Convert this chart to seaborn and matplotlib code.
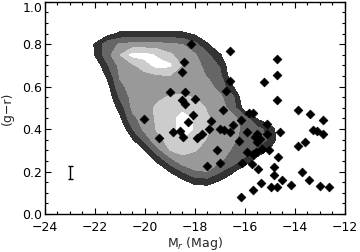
import numpy as np
import pandas as pd
import matplotlib
matplotlib.use('Agg')
import matplotlib.pyplot as plt
import seaborn as sns

# Dwarf galaxy sample: absolute magnitude and colour
mag_r = [-20.04, -19.42, -19.00, -18.89, -18.60, -18.50, -18.43, -18.16, -18.40, -18.50,
         -18.40, -18.00, -18.07, -18.28, -18.48, -17.73, -17.37, -17.42, -17.00, -16.82,
         -16.60, -16.87, -16.76, -16.60, -16.60, -16.49, -16.16, -15.82, -15.69, -15.24,
         -14.73, -14.73, -14.73, -13.87, -13.40, -12.88, -15.11, -14.60, -13.27, -13.11,
         -12.87, -15.93, -15.51, -15.60, -15.10, -16.22, -15.52, -15.40, -15.03, -13.60,
         -13.87, -15.90, -15.56, -15.66, -15.33, -14.69, -16.12, -15.73, -15.47, -14.84,
         -14.83, -13.72, -14.53, -13.43, -15.37, -14.16, -14.97, -14.71, -12.98, -12.64,
         -15.69, -16.14, -17.13, -17.00, -17.51, -17.92]
g_r = [0.449, 0.360, 0.573, 0.388, 0.391, 0.667, 0.714, 0.800, 0.576, 0.535,
       0.516, 0.541, 0.467, 0.431, 0.361, 0.377, 0.436, 0.398, 0.398, 0.394,
       0.388, 0.492, 0.580, 0.628, 0.768, 0.419, 0.443, 0.475, 0.475, 0.622,
       0.731, 0.657, 0.536, 0.490, 0.471, 0.441, 0.424, 0.388, 0.396, 0.391,
       0.377, 0.384, 0.375, 0.363, 0.379, 0.342, 0.341, 0.352, 0.302, 0.341,
       0.319, 0.290, 0.294, 0.283, 0.305, 0.270, 0.242, 0.236, 0.211, 0.221,
       0.184, 0.198, 0.158, 0.160, 0.148, 0.135, 0.126, 0.125, 0.133, 0.126,
       0.111, 0.079, 0.302, 0.242, 0.226, 0.356]

# typical error bar
err_mag = [-23.0]
err_col = [0.196]
err_size = [0.03]

grid_mag = np.arange(-22.5, -14.49, 0.5)
grid_col = np.arange(0.10, 0.901, 0.05)
density = np.array([
    [0, 0, 0, 0, 0, 0, 0, 0, 0, 0, 0, 0, 0, 0, 0, 0, 0],
    [0, 0, 0, 0, 0, 0, 0, 0, 0.6, 1.3, 1.4, 0.8, 0.2, 0, 0, 0, 0],
    [0, 0, 0, 0, 0, 0, 0, 1.05, 2.05, 2.9, 3.0, 2.1, 1.2, 0, 0, 0, 0],
    [0, 0, 0, 0, 0, 0, 1.2, 2.5, 3.6, 3.6, 3.4, 3.1, 2.6, 1.7, 0.4, 0, 0],
    [0, 0, 0, 0, 0, 1.0, 2.6, 4.0, 4.3, 4.05, 3.7, 3.4, 2.9, 2.5, 1.85, 0.8, 0],
    [0, 0, 0, 0, 0.9, 2.4, 3.75, 4.3, 4.95, 4.6, 3.9, 3.5, 3.15, 2.7, 2.3, 1.9, 0],
    [0, 0, 0, 0, 2.0, 3.3, 4.1, 4.6, 5.4, 4.9, 4.15, 3.7, 3.3, 2.8, 2.3, 1.6, 0],
    [0, 0, 0, 0.8, 2.75, 3.4, 4.2, 4.7, 5.3, 4.9, 4.1, 3.6, 3.3, 2.5, 0.9, 0, 0],
    [0, 0, 0, 1.4, 3.2, 3.6, 4.2, 4.6, 4.8, 4.6, 3.9, 3.4, 2.6, 0.4, 0, 0, 0],
    [0, 0, 0.2, 2.2, 3.3, 3.5, 3.8, 4.1, 4.15, 3.95, 3.6, 3.2, 2.3, 0, 0, 0, 0],
    [0, 0, 0.6, 2.8, 3.3, 3.4, 3.4, 3.5, 3.6, 3.5, 3.3, 2.7, 1.1, 0, 0, 0, 0],
    [0, 0, 1.2, 3.1, 3.4, 3.6, 3.8, 3.95, 3.6, 3.3, 2.95, 2.3, 0.2, 0, 0, 0, 0],
    [0, 0.2, 1.9, 3.3, 3.8, 4.6, 5.35, 5.15, 3.9, 3.4, 2.6, 1.9, 0, 0, 0, 0, 0],
    [0, 1.05, 2.6, 4.0, 5.3, 5.3, 4.85, 4.2, 3.4, 3.1, 2.2, 1.1, 0, 0, 0, 0, 0],
    [0, 1.1, 2.6, 3.1, 3.3, 3.3, 3.3, 3.1, 3.0, 2.3, 1.1, 0, 0, 0, 0, 0, 0],
    [0, 0, 0.6, 1.2, 1.3, 1.3, 1.3, 1.3, 1.2, 0.8, 0.2, 0, 0, 0, 0, 0, 0],
    [0, 0, 0, 0, 0, 0, 0, 0, 0, 0, 0, 0, 0, 0, 0, 0, 0],
])

df = pd.DataFrame({'Mr': mag_r, 'gr': g_r})

sns.set_style('ticks')
plt.rcParams['font.family'] = ['DejaVu Sans']
plt.rcParams['font.size'] = 9

fig = plt.figure(figsize=(3.6, 2.52), dpi=100)
ax = fig.add_axes([0.125, 0.151, 0.833, 0.842])

# shaded density contours
ax.contourf(grid_mag, grid_col, density, levels=[1, 2, 3, 4, 5, 10],
            colors=['#333333', '#666666', '#999999', '#cccccc', '#ffffff'], zorder=1)

sns.scatterplot(data=df, x='Mr', y='gr', marker='D', s=20, color='black',
                edgecolor='black', linewidth=0.5, ax=ax, zorder=3)

ax.errorbar(err_mag, err_col, yerr=err_size, fmt='none', ecolor='black',
            elinewidth=1, capsize=1.8, capthick=1, zorder=3)

ax.set_xlim(-24, -12)
ax.set_ylim(0.0, 1.0)
ax.set_xticks([-24, -22, -20, -18, -16, -14, -12])
ax.set_yticks([0.0, 0.2, 0.4, 0.6, 0.8, 1.0])
ax.set_xticks(np.arange(-24, -11.9, 0.5), minor=True)
ax.set_yticks(np.arange(0, 1.001, 0.05), minor=True)
ax.set_yticklabels(['0.0', '0.2', '0.4', '0.6', '0.8', '1.0'])
ax.get_yticklabels()[-1].set_va('top')

ax.tick_params(which='both', direction='in', top=True, right=True, width=0.8, colors='black')
ax.tick_params(which='major', length=4, labelsize=9)
ax.tick_params(axis='x', which='major', pad=5)
ax.tick_params(axis='y', which='major', pad=2)
ax.tick_params(which='minor', length=2.2)
for sp in ax.spines.values():
    sp.set_linewidth(1.0)
    sp.set_color('black')

ax.set_xlabel(r'M$_r$ (Mag)', fontsize=9)
ax.xaxis.set_label_coords(0.5, -0.1)
ax.set_ylabel('(g\u2212r)', fontsize=9, labelpad=6)

fig.savefig('out.png', dpi=100)
